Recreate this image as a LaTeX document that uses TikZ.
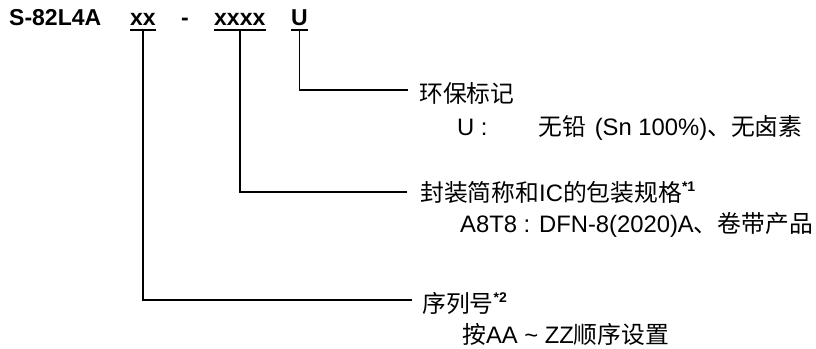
\documentclass[tikz,border=0pt]{standalone}
\usepackage{fontspec}
\setmainfont{Liberation Sans}
\newfontfamily\cjk{Noto Sans CJK SC}
\newcommand\zh[1]{{\cjk #1}}
\newcommand\fnmark[1]{\raisebox{0.42em}{\fontsize{14}{14}\selectfont\bfseries *#1}}
\begin{document}
\begin{tikzpicture}[x=1pt,y=1pt,
  title/.style={anchor=base west,inner sep=0pt,font=\fontsize{23}{27}\selectfont\bfseries},
  lab/.style={anchor=base west,inner sep=0pt,font=\fontsize{23.8}{28}\selectfont},
  conn/.style={line width=1.6pt},
  uline/.style={line width=2pt}]
\useasboundingbox (0,0) rectangle (816,-348);
% title
\node[title] (pn) at (9,-25) {S-82L4A};
\node[title] (xx) at (130,-25) {xx};
\node[title] (dash) at (181,-25) {-};
\node[title] (xxxx) at (214,-25) {xxxx};
\node[title] (u) at (291,-25) {U};
\foreach \n in {xx,xxxx,u}
  \draw[uline] ([yshift=-4.5pt]\n.south west) -- ([yshift=-4.5pt]\n.south east);
% labels
\node[lab] (l1) at (419,-102) {\zh{环保标记}};
\node[lab] (l1a) at (457,-135) {U :};
\node[lab] (l1b) at (538,-135) {\zh{无铅}\hspace{0.1em} (Sn 100\%)\zh{、无卤素}};
\node[lab] (l2) at (420,-201) {\zh{封装简称和}IC\zh{的包装规格}\fnmark{1}};
\node[lab] (l2a) at (460,-232) {A8T8 : DFN-8(2020)A\zh{、卷带产品}};
\node[lab] (l3) at (422,-312) {\zh{序列号}\fnmark{2}};
\node[lab] (l3a) at (462,-343) {\zh{按}AA \textasciitilde{} ZZ\zh{顺序设置}};
% connector ends
\coordinate (e1) at (408,-90);
\coordinate (e2) at (407,-192);
\coordinate (e3) at (412,-300);
\draw[conn] ([yshift=-5.5pt]u.south) |- (e1);
\draw[conn] ([yshift=-5.5pt]xxxx.south) |- (e2);
\draw[conn] ([yshift=-5.5pt]xx.south) |- (e3);
\end{tikzpicture}
\end{document}
